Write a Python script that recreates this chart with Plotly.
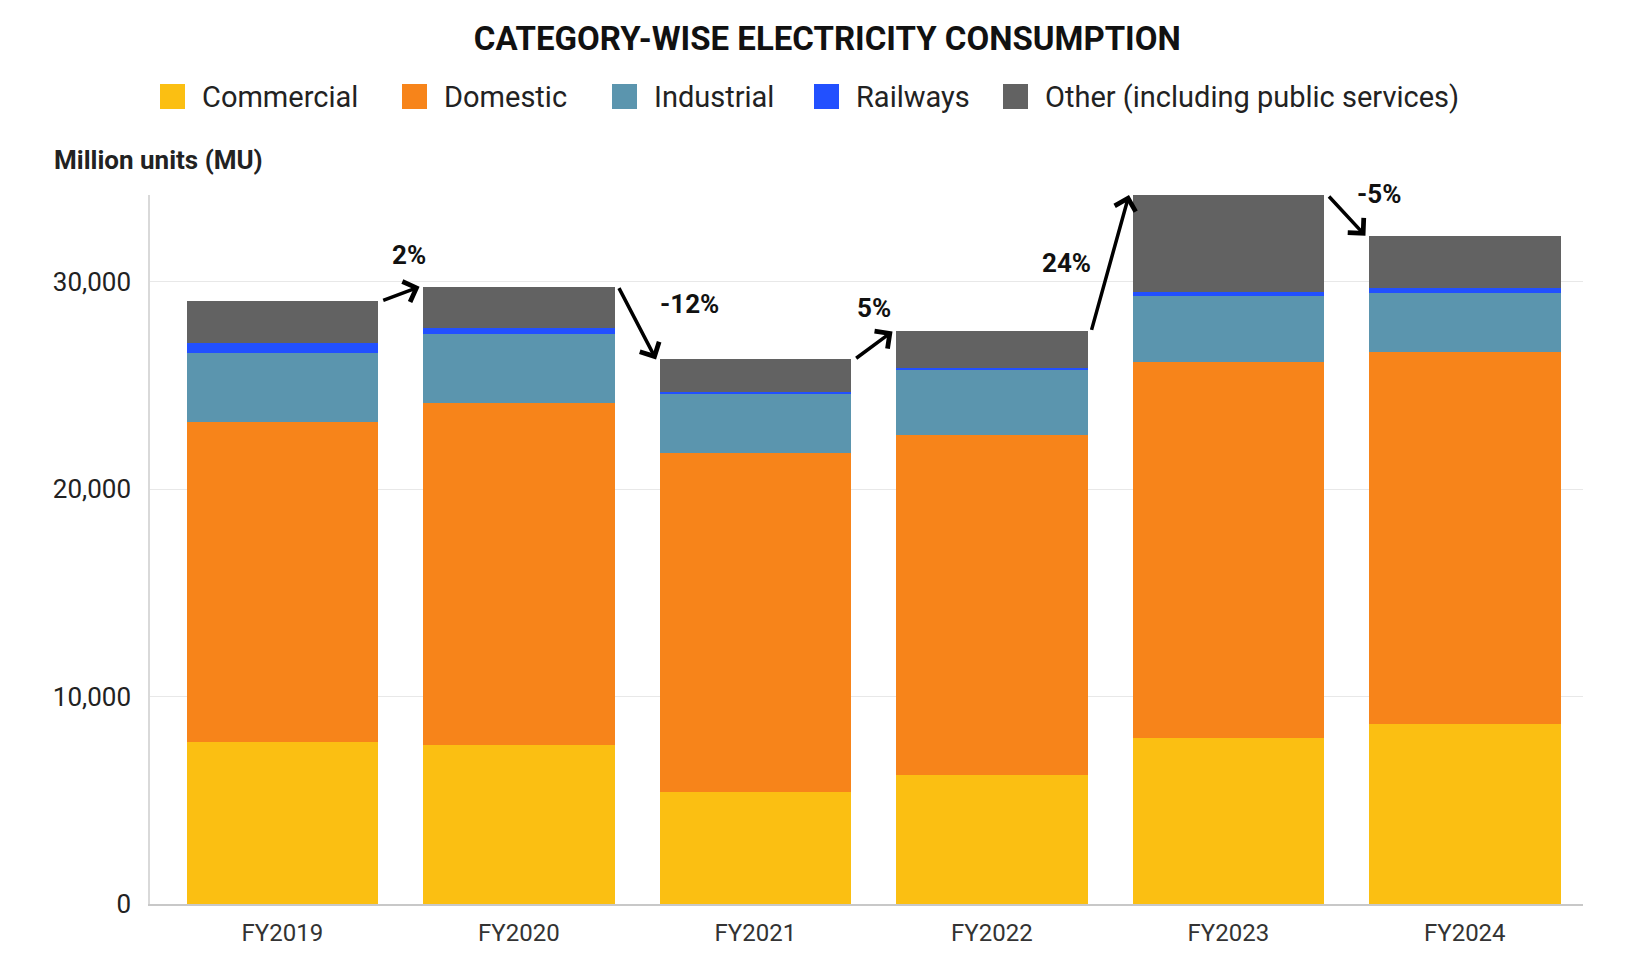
import plotly.graph_objects as go

# values (million units)
years = ["FY2019", "FY2020", "FY2021", "FY2022", "FY2023", "FY2024"]
commercial = [7800, 7650, 5400, 6200, 8000, 8700]
domestic = [15450, 16480, 16350, 16410, 18140, 17890]
industrial = [3300, 3350, 2860, 3140, 3170, 2880]
railways = [480, 290, 90, 90, 210, 210]
other = [2040, 1990, 1555, 1765, 4660, 2535]
change_labels = ["2%", "-12%", "5%", "24%", "-5%"]

names = ["Commercial", "Domestic", "Industrial", "Railways",
         "Other (including public services)"]
colors = ["#FBBF12", "#F7841A", "#5B95AE", "#2250FF", "#626262"]
series = [commercial, domestic, industrial, railways, other]

W, H = 1635, 962
ML, MR, MT, MB = 150, 52, 195, 58
PW, PH = W - ML - MR, H - MT - MB


def px_x(px):
    return (px - ML) / PW


def px_y(py):
    return (H - MB - py) / PH


totals = [sum(v) for v in zip(*series)]

fig = go.Figure()
for name, vals, col in zip(names, series, colors):
    fig.add_trace(go.Bar(x=years, y=vals, name=name, marker_color=col,
                         marker_line_width=0, showlegend=False))

# change arrows between bar tops
half = 0.42
label_shift = [(8, 39), (52, 19), (0, 37), (-44, 0), (32, 21)]
for i, lab in enumerate(change_labels):
    fig.add_annotation(x=i + 1 - half, y=totals[i + 1], ax=i + half, ay=totals[i],
                       xref="x", yref="y", axref="x", ayref="y", text="",
                       showarrow=True, arrowhead=4, arrowsize=1.2, arrowwidth=3.5,
                       arrowcolor="black", standoff=0, startstandoff=0)
    dx, dy = label_shift[i]
    fig.add_annotation(x=i + 0.5, y=(totals[i] + totals[i + 1]) / 2, xref="x", yref="y",
                       text="<b>" + lab + "</b>", showarrow=False, xshift=dx, yshift=dy,
                       font=dict(family="Roboto", size=26, color="#111"))

# legend drawn by hand so the swatches can be large
legend_x = [160, 402, 612, 814, 1003]
for name, col, lx in zip(names, colors, legend_x):
    fig.add_shape(type="rect", xref="paper", yref="paper",
                  x0=px_x(lx), x1=px_x(lx + 25), y0=px_y(109), y1=px_y(84),
                  fillcolor=col, line_width=0)
    fig.add_annotation(xref="paper", yref="paper", x=px_x(lx + 40), y=px_y(97),
                       text=name, showarrow=False, xanchor="left", yanchor="middle",
                       font=dict(family="Roboto", size=29, color="#222"))

fig.add_annotation(xref="paper", yref="paper", x=px_x(52), y=px_y(160),
                   text="<b>Million units (MU)</b>", showarrow=False,
                   xanchor="left", yanchor="middle",
                   font=dict(family="Roboto", size=26, color="#222"))

fig.update_layout(
    width=W, height=H,
    barmode="stack", bargap=0.19,
    paper_bgcolor="white", plot_bgcolor="white",
    margin=dict(l=ML, r=MR, t=MT, b=MB),
    title=dict(text="<b>CATEGORY-WISE ELECTRICITY CONSUMPTION</b>",
               x=0.506, xanchor="center", y=1 - 38 / H, yanchor="middle",
               font=dict(family="Roboto", size=33, color="#111")),
    font=dict(family="Roboto", size=24, color="#333"),
)
fig.update_xaxes(range=[-0.56, 5.5], showline=True, linecolor="#c8c8c8", linewidth=2,
                 showgrid=False, ticks="", ticklabelstandoff=6,
                 tickfont=dict(size=24, color="#333"))
fig.update_yaxes(range=[0, max(totals)], showline=True, linecolor="#d9d9d9",
                 linewidth=1.5, showgrid=True, gridcolor="#e8e8e8", gridwidth=1,
                 tickvals=[0, 10000, 20000, 30000], tickformat=",",
                 zeroline=False, ticklabelstandoff=12,
                 tickfont=dict(size=26, color="#222"))

fig.write_html("out.html", config={"displayModeBar": False},
               post_script="document.body.style.margin='0';")
